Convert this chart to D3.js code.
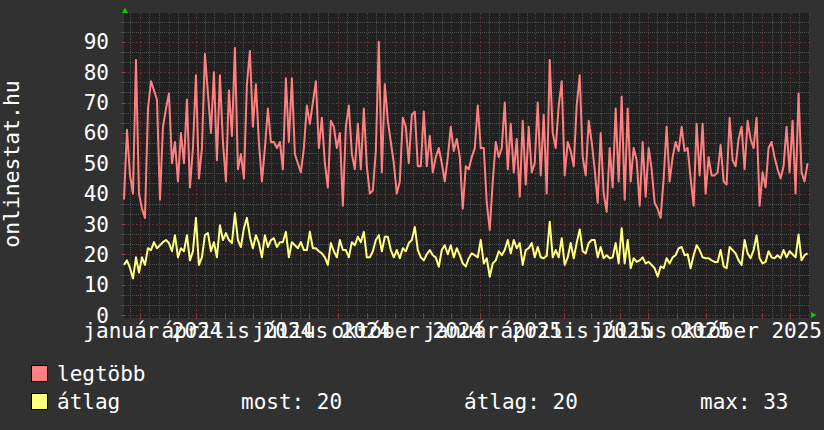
<!DOCTYPE html>
<html><head><meta charset="utf-8">
<script src="https://cdn.jsdelivr.net/npm/d3@7"></script>
<style>
html,body{margin:0;padding:0;background:#313131;}
svg{display:block;}
text{font-family:"DejaVu Sans Mono",monospace;fill:#ffffff;}
</style></head><body>
<svg id="chart" width="824" height="430"></svg>
<script>
// ---- data ----
const seriesNames = ["legtöbb", "átlag"];
const seriesColors = ["#ff8080", "#ffff80"];
const startTime = new Date(Date.UTC(2023, 11, 14, 13));
const endTime = new Date(Date.UTC(2025, 11, 22, 10));
const stepHours = 77.5;
const legtobb = [
 38,61,46,40,84,40,35,32,68,77,
 74,71,38,62,68,73,50,57,44,60,
 50,71,42,55,79,45,55,86,73,60,
 80,51,79,57,44,74,59,88,48,53,
 45,76,87,62,76,57,44,55,68,57,
 57,55,57,48,78,57,78,53,50,47,
 55,69,63,70,77,55,65,50,42,64,
 62,55,60,36,62,69,53,48,63,48,
 68,49,40,41,54,90,47,76,64,57,
 50,40,44,65,62,50,66,67,49,49,
 67,49,59,47,52,55,50,44,52,62,
 54,58,52,35,49,48,52,55,69,55,
 55,37,28,44,57,52,55,70,48,63,
 47,58,39,64,43,62,47,50,70,46,
 66,40,84,60,55,69,77,46,57,54,
 49,69,79,52,46,64,57,48,37,60,
 40,34,55,42,68,44,72,38,68,44,
 55,51,36,57,39,55,48,37,35,32,
 45,62,44,52,57,54,62,54,55,45,
 36,63,46,63,40,52,46,46,47,56,
 44,43,65,51,49,58,62,48,64,58,
 55,65,36,47,42,55,57,52,48,45,
 49,62,47,64,40,73,47,44,50
];
const atlag = [
 16.5,18,15.5,12,19,14,19,16.5,22,21.4,
 24,22,23,24,24.7,23.7,21,26.3,19,22,
 21,26.3,18,21,32,16.5,19,26.3,27,21,
 24,19,29.6,24.7,27,24.7,23.7,33.5,24.7,22.4,
 28.6,32,25.8,22,26.3,23.7,19,26.3,22.4,24.7,
 25.3,22.4,24,24,27.4,19,24,23,22,24,
 21.4,21.4,27.4,22,22,21,20.3,19,16.5,23.7,
 21,19,24.7,21.4,21.4,19,24,23,25.8,24,
 27.4,19,19,21,24.7,26.3,21,25.8,25.8,21.4,
 19,21.4,18.7,22,21,23.7,24.7,29,21.4,19,
 18,20,21.4,19.7,19,15.9,21.4,23,20,23,
 19,22,19.7,17,16,18.7,20.3,19.7,19,24.7,
 17,18.7,12.6,17,18,21,19.7,21.4,24.7,20.3,
 24.7,22,23.7,16.5,21.4,22,23.7,19,22.4,19,
 18.7,19.5,30.7,19,21.4,19,25.3,16.5,19,23.7,
 18.7,23.7,28.2,21,20.3,23.7,24.7,24.7,19,22.4,
 18.7,19.7,18.7,19,23.7,17,28.6,17,24.7,15.4,
 18.7,17.5,18,19,17,17.5,16.5,15.4,12.6,16,
 15.4,18.7,17,19,19.7,22,22.4,19.7,20,15.4,
 19.7,23,21.4,19,18.7,18.7,18,17.5,17.5,21.4,
 16,15.4,22.4,21.4,20.3,18,16.5,24.7,20.3,18.7,
 21.4,26.2,18.7,17,17.5,21,19,18.7,19.7,18.7,
 21.4,19,21,20,19,26.5,18,19.7,20.3
];
const yTickValues = [0,10,20,30,40,50,60,70,80,90];
const monthNamesHu = ["január","február","március","április","május","június","július","augusztus","szeptember","október","november","december"];
const legendStats = [["most", 20], ["átlag", 20], ["max", 33]];
const yTitle = "onlinestat.hu";

// ---- layout ----
const W = 824, H = 430;
const L = 124, R = 810, T = 13, B = 315, BG = 318;
const svg = d3.select("#chart");
svg.append("rect").attr("width", W).attr("height", H).attr("fill", "#313131");
svg.append("rect").attr("x", L).attr("y", T).attr("width", R - L).attr("height", BG - T).attr("fill", "#212121");

const x = d3.scaleUtc().domain([startTime, endTime]).range([L, R]);
const y = d3.scaleLinear().domain([0, 99.5]).range([B, T]);

// grid
const grid = svg.append("g").attr("shape-rendering", "crispEdges");
const minorColor = "#4e4e4e", majorColor = "#5e3030";
const minorY = d3.range(0, 100, 10 / 3).filter(v => Math.abs(v / 10 - Math.round(v / 10)) > 0.01);
grid.selectAll(".hmin").data(minorY).join("line")
  .attr("x1", L).attr("x2", R)
  .attr("y1", d => Math.round(y(d)) + 0.5).attr("y2", d => Math.round(y(d)) + 0.5)
  .attr("stroke", minorColor).attr("stroke-dasharray", "1,1");
grid.selectAll(".hmintick").data(minorY).join("line")
  .attr("x1", L - 3).attr("x2", L)
  .attr("y1", d => Math.round(y(d)) + 0.5).attr("y2", d => Math.round(y(d)) + 0.5)
  .attr("stroke", minorColor);

const months = d3.utcMonth.range(d3.utcMonth.ceil(startTime), endTime);
const minorX = [];
d3.utcMonth.range(d3.utcMonth.floor(startTime), endTime).forEach(m => {
  [10, 20].forEach(k => {
    const d = d3.utcDay.offset(m, k);
    if (d > startTime && d < endTime) minorX.push(d);
  });
});
grid.selectAll(".vmin").data(minorX).join("line")
  .attr("y1", T).attr("y2", BG)
  .attr("x1", d => Math.round(x(d)) + 0.5).attr("x2", d => Math.round(x(d)) + 0.5)
  .attr("stroke", minorColor).attr("stroke-dasharray", "1,1");
grid.selectAll(".vmaj").data(months).join("line")
  .attr("y1", T).attr("y2", BG)
  .attr("x1", d => Math.round(x(d)) + 0.5).attr("x2", d => Math.round(x(d)) + 0.5)
  .attr("stroke", majorColor).attr("stroke-dasharray", "2,2");
grid.selectAll(".vmajtick").data(months).join("line")
  .attr("y1", B - 2).attr("y2", BG + 1)
  .attr("x1", d => Math.round(x(d)) + 0.5).attr("x2", d => Math.round(x(d)) + 0.5)
  .attr("stroke", "#8a3a3a");
grid.selectAll(".hmaj").data(yTickValues).join("line")
  .attr("x1", L).attr("x2", R)
  .attr("y1", d => Math.round(y(d)) + 0.5).attr("y2", d => Math.round(y(d)) + 0.5)
  .attr("stroke", majorColor).attr("stroke-dasharray", "2,2");
grid.selectAll(".hmajtick").data(yTickValues).join("line")
  .attr("x1", L - 3).attr("x2", L + 2)
  .attr("y1", d => Math.round(y(d)) + 0.5).attr("y2", d => Math.round(y(d)) + 0.5)
  .attr("stroke", "#8a3a3a");

// y labels
svg.append("g").selectAll("text").data(yTickValues).join("text")
  .attr("x", 109).attr("y", d => y(d)).attr("dy", "0.36em")
  .attr("text-anchor", "end").attr("font-size", 21)
  .text(d => d);

// x labels (quarterly, centered mid-month)
const labelMonths = d3.utcMonth.every(3).range(d3.utcMonth.ceil(startTime), endTime);
svg.append("g").selectAll("text").data(labelMonths).join("text")
  .attr("x", d => x(d3.utcHour.offset(d, 13.7 * 24)))
  .attr("y", 338).attr("text-anchor", "middle").attr("font-size", 21)
  .text(d => monthNamesHu[d.getUTCMonth()] + " " + d.getUTCFullYear());

// y title
svg.append("text").attr("transform", "translate(18.5,164) rotate(-90)")
  .attr("text-anchor", "middle").attr("font-size", 21.4).text(yTitle);

// series
const toPoints = arr => arr.map((v, i) => ({ t: d3.utcHour.offset(startTime, i * stepHours), v }));
const line = d3.line().x(d => x(d.t)).y(d => y(d.v));
[atlag, legtobb].forEach((arr, k) => {
  svg.append("path").datum(toPoints(arr))
    .attr("fill", "none")
    .attr("stroke", k === 0 ? seriesColors[1] : seriesColors[0])
    .attr("stroke-width", 2).attr("stroke-linejoin", "round")
    .attr("d", line);
});

// arrows
svg.append("path").attr("d", d3.line()([[122, 13], [128, 13], [125, 7.5]]) + "Z").attr("fill", "#00d000");
svg.append("path").attr("d", d3.line()([[811, 312], [811, 318], [816.5, 315]]) + "Z").attr("fill", "#00d000");

// legend
const leg = svg.append("g");
seriesNames.forEach((name, i) => {
  leg.append("rect").attr("x", 31.5).attr("y", 365.5 + i * 28).attr("width", 16).attr("height", 16)
    .attr("fill", seriesColors[i]).attr("stroke", "#000").attr("stroke-width", 1);
  leg.append("text").attr("x", 57).attr("y", 381 + i * 28).attr("font-size", 21).text(name);
});
const statX = [241, 464, 700];
legendStats.forEach((s, i) => {
  leg.append("text").attr("x", statX[i]).attr("y", 409).attr("font-size", 21)
    .text(s[0] + ": " + s[1]);
});
</script>
</body></html>
